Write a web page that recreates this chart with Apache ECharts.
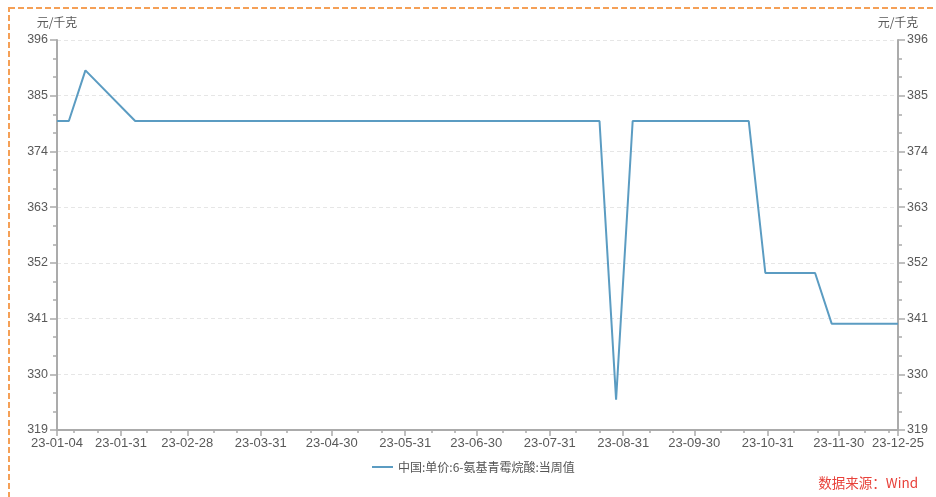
<!DOCTYPE html>
<html>
<head>
<meta charset="utf-8">
<script src="https://cdn.jsdelivr.net/npm/echarts@6/dist/echarts.min.js"></script>
<style>
html,body{margin:0;padding:0;background:#fff;}
#main{width:936px;height:497px;}
</style>
</head>
<body>
<div id="main"></div>
<script>
// ---- data ----
const seriesName = '中国:单价:6-氨基青霉烷酸:当周值';
const dates = ['2023-01-04','2023-01-09','2023-01-16','2023-02-06','2023-08-21','2023-08-28','2023-09-04','2023-10-23','2023-10-30','2023-11-20','2023-11-27','2023-12-25'];
const values = [380, 380, 390, 380, 380, 325, 380, 380, 350, 350, 340, 340];
const xLabelDates = ['2023-01-04','2023-01-31','2023-02-28','2023-03-31','2023-04-30','2023-05-31','2023-06-30','2023-07-31','2023-08-31','2023-09-30','2023-10-31','2023-11-30','2023-12-25'];
const minorTickDays = [11, 21];
const yMin = 319, yMax = 396, yStep = 11;
const unitText = '元/千克';
const sourceText = '数据来源：Wind';

function t(s){ const p = s.split('-').map(Number); return new Date(p[0], p[1]-1, p[2]).getTime(); }
function pad(n){ return (n<10?'0':'') + n; }
function fmt(v){ const d = new Date(v); return String(d.getFullYear()).slice(2) + '-' + pad(d.getMonth()+1) + '-' + pad(d.getDate()); }

const xMinT = t(xLabelDates[0]), xMaxT = t(xLabelDates[xLabelDates.length-1]);
const majorT = xLabelDates.map(t);
const minorT = [];
for (let m = 0; m < 12; m++) minorTickDays.forEach(function(d){ const v = new Date(2023, m, d).getTime(); if (v > xMinT && v < xMaxT) minorT.push(v); });

const gridTop = 40, gridBottom = 67, H = 497;
const gridH = H - gridTop - gridBottom;
const axisColor = '#ababab';
const labelColor = '#595959';
const lineColor = '#5b9cc2';

const chart = echarts.init(document.getElementById('main'));
chart.setOption({
  animation: false,
  backgroundColor: '#fff',
  grid: { left: 57, right: 38, top: gridTop, bottom: gridBottom, containLabel: false },
  legend: {
    left: 367, top: 456,
    icon: 'rect', itemWidth: 21, itemHeight: 2, itemGap: 10,
    textStyle: { color: '#555', fontSize: 12, fontFamily: '"Noto Sans CJK SC", sans-serif' },
    data: [seriesName]
  },
  xAxis: [{
    type: 'value', min: xMinT, max: xMaxT, position: 'bottom', scale: true,
    axisLine: { show: true, onZero: false, lineStyle: { color: axisColor, width: 2 } },
    axisTick: { show: true, length: 6, customValues: majorT, lineStyle: { color: axisColor, width: 1.5 } },
    axisLabel: { show: true, customValues: majorT, formatter: fmt, color: labelColor, fontSize: 13, margin: 7, hideOverlap: false, showMinLabel: true, showMaxLabel: true },
    splitLine: { show: false }
  }, {
    type: 'value', min: xMinT, max: xMaxT, position: 'top', offset: -gridH, scale: true,
    axisLine: { show: false, onZero: false },
    axisTick: { show: true, inside: true, length: 3, customValues: minorT, lineStyle: { color: axisColor, width: 1.5 } },
    axisLabel: { show: false },
    splitLine: { show: false }
  }],
  yAxis: [{
    type: 'value', position: 'left', min: yMin, max: yMax, interval: yStep,
    name: unitText, nameLocation: 'end', nameGap: 12,
    nameTextStyle: { color: labelColor, fontSize: 12, align: 'center', fontFamily: '"Noto Sans CJK SC", sans-serif' },
    axisLine: { show: true, onZero: false, lineStyle: { color: axisColor, width: 2 } },
    axisTick: { show: true, length: 7, lineStyle: { color: axisColor, width: 1.5 } },
    minorTick: { show: true, splitNumber: 3, length: 4, lineStyle: { color: axisColor, width: 1.5 } },
    axisLabel: { color: labelColor, fontSize: 12.5, margin: 9 },
    splitLine: { show: true, lineStyle: { color: '#e6e6e6', type: [4, 3], width: 1 } }
  }, {
    type: 'value', position: 'right', min: yMin, max: yMax, interval: yStep,
    name: unitText, nameLocation: 'end', nameGap: 12,
    nameTextStyle: { color: labelColor, fontSize: 12, align: 'center', fontFamily: '"Noto Sans CJK SC", sans-serif' },
    axisLine: { show: true, onZero: false, lineStyle: { color: axisColor, width: 2 } },
    axisTick: { show: true, length: 7, lineStyle: { color: axisColor, width: 1.5 } },
    minorTick: { show: true, splitNumber: 3, length: 4, lineStyle: { color: axisColor, width: 1.5 } },
    axisLabel: { color: labelColor, fontSize: 12.5, margin: 9 },
    splitLine: { show: false }
  }],
  series: [{
    name: seriesName, type: 'line', xAxisIndex: 0, yAxisIndex: 0,
    symbol: 'none', showSymbol: false,
    lineStyle: { color: lineColor, width: 2 },
    itemStyle: { color: lineColor },
    data: dates.map(function(d, i){ return [t(d), values[i]]; })
  }],
  graphic: [{
    type: 'rect', silent: true, z: 100,
    shape: { x: 9, y: 8, width: 1000, height: 1000 },
    style: { fill: 'none', stroke: '#f5a057', lineWidth: 2, lineDash: [6, 3] }
  }, {
    type: 'text', right: 18, top: 476, silent: true,
    style: { text: sourceText, fill: '#e8413a', fontSize: 13.5, fontFamily: '"Noto Sans CJK SC", sans-serif' }
  }]
});
</script>
</body>
</html>
